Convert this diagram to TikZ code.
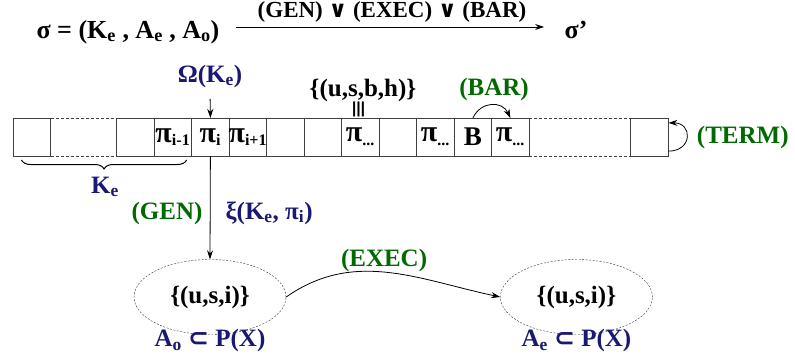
\documentclass[tikz,border=0pt]{standalone}
\usepackage{fontspec}
\setmainfont{Liberation Serif}
\newfontfamily\symfont{DejaVu Sans}
\usetikzlibrary{positioning,calc,arrows.meta,shapes.geometric,decorations.pathreplacing}
\definecolor{navy}{RGB}{25,25,115}
\definecolor{rulegreen}{RGB}{0,105,0}
\newcommand{\pisub}[1]{{\fontsize{30}{30}\selectfont π}\textsubscript{#1}}
\tikzset{
  cell/.style={rectangle, draw=black!75, line width=1pt, minimum width=37.5pt, minimum height=38pt,
    inner sep=0pt, inner xsep=-4pt, outer sep=0pt, font=\fontsize{23}{26}\selectfont\bfseries},
  set/.style={ellipse, draw=black!80, dash pattern=on 2pt off 1.5pt, minimum width=152pt, minimum height=75pt,
    font=\fontsize{25}{28}\selectfont\bfseries},
  connect/.style={-{Stealth[length=9pt,width=6pt]}, line width=0.8pt},
  rule/.style={text=rulegreen, font=\fontsize{25}{28}\selectfont\bfseries},
  dom/.style={text=navy, font=\fontsize{25}{28}\selectfont\bfseries},
  plain/.style={font=\fontsize{25}{28}\selectfont\bfseries}
}

\begin{document}
\begin{tikzpicture}[x=1pt, y=-1pt]
  \useasboundingbox (0,0) rectangle (795,356);

  % Top: sigma -> sigma'
  \node[plain, anchor=base, font=\fontsize{26}{28}\selectfont\bfseries] (sigma) at (128,38)
    {σ = (K\textsubscript{e} , A\textsubscript{e} , A\textsubscript{o})};
  \node[plain, anchor=base, font=\fontsize{26}{28}\selectfont\bfseries] (sigmap) at (576,38) {σ'};
  \draw[connect, shorten <=13pt, shorten >=17pt] ([yshift=11pt]sigma.base east) --
    node[above=1pt, font=\fontsize{23}{26}\selectfont\bfseries]
      {(GEN) {\symfont ∨} (EXEC) {\symfont ∨} (BAR)} ([yshift=11pt]sigmap.base west);

  % Draw the tape: first cell, dashed gap, then the cells in a row
  \node[cell] (c_0) at (32.2,137) {};
  \node[cell, right=65.7pt of c_0] (c_1) {};
  \foreach \txt [count=\i from 2] in {\pisub{i-1}, \pisub{i}, \pisub{i+1}, {}, {}, \pisub{...}, {}, \pisub{...}, {\fontsize{27}{27}\selectfont B}, \pisub{...}} {
    \pgfmathtruncatemacro{\j}{\i-1}
    \node[cell, right=0pt of c_\j] (c_\i) {\txt};
  }
  \node[cell, right=101.8pt of c_11] (c_end) {};
  \draw[black!75, line width=1pt, dash pattern=on 3pt off 2pt]
    (c_0.north east) -- (c_1.north west) (c_0.south east) -- (c_1.south west)
    (c_11.north east) -- (c_end.north west) (c_11.south east) -- (c_end.south west);

  % Head position and the read symbol
  \node[dom] (omega) at (210,76) {Ω(K\textsubscript{e})};
  \draw[connect, shorten <=8pt] (omega.south) -- (c_3.north);
  \node[plain] (tuple) at (363,90) {\{(u,s,b,h)\}};
  \node[rotate=90, font=\fontsize{24}{24}\symfont] (same) at (360.4,109) {≡};

  % Barrier and termination
  \node[rule] (bar) at (494,89) {(BAR)};
  \draw[connect] (c_10.north) to[out=65, in=115, looseness=1.3] (c_11.north);
  \node[rule, right=25pt of c_end] (term) {(TERM)};
  \draw[connect] (c_end.-37) to[out=0, in=0, looseness=2.2] (c_end.37);

  % Known part of the tape
  \draw[black, line width=1pt, decorate, decoration={brace, mirror, amplitude=9pt}]
    ($(c_0.south west)+(8,4)$) -- ($(c_2.south east)+(-5,4)$);
  \node[dom] (known) at (105,187) {K\textsubscript{e}};

  % Generation and execution of the actions
  \node[set] (e1) at (210,297) {\{(u,s,i)\}};
  \node[set, right=214pt of e1] (e2) {\{(u,s,i)\}};
  \draw[connect] (c_3.south) -- (e1.north);
  \node[rule, anchor=east] (gen) at (206,213) {(GEN)};
  \node[dom, anchor=west] (xi) at (222,213) {ξ(K\textsubscript{e}, π\textsubscript{i})};
  \draw[connect] (e1.east) to[out=35, in=168] node[rule, above=-3pt, pos=0.48] (exec) {(EXEC)} (e2.west);
  \node[dom, below=-9pt of e1] (ao) {A\textsubscript{o} {\symfont ⊂} P(X)};
  \node[dom, below=-9pt of e2] (ae) {A\textsubscript{e} {\symfont ⊂} P(X)};
\end{tikzpicture}
\end{document}
